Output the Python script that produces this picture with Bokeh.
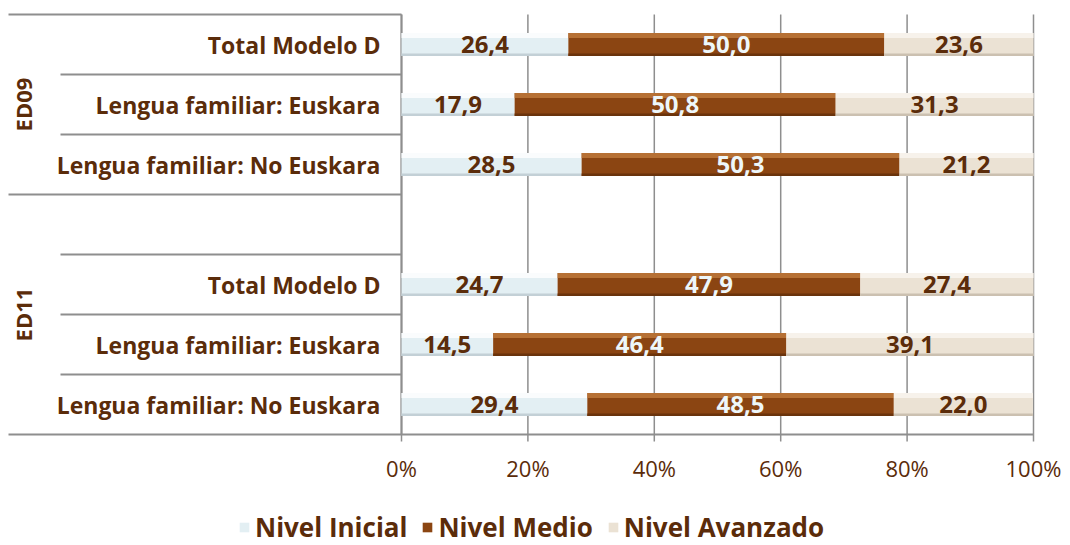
from bokeh.plotting import figure
from bokeh.models import Range1d, ColumnDataSource, Legend, LegendItem
from bokeh.core.properties import value
from bokeh.embed import file_html
from bokeh.resources import INLINE
import math

groups = ["ED09", "ED11"]
categories = ["Total Modelo D", "Lengua familiar: Euskara", "Lengua familiar: No Euskara"]
series = ["Nivel Inicial", "Nivel Medio", "Nivel Avanzado"]
inicial = [26.4, 17.9, 28.5, 24.7, 14.5, 29.4]
medio = [50.0, 50.8, 50.3, 47.9, 46.4, 48.5]
avanzado = [23.6, 31.3, 21.2, 27.4, 39.1, 22.0]
ticks = [0, 20, 40, 60, 80, 100]
tick_labels = ["0%", "20%", "40%", "60%", "80%", "100%"]

FONT = "Open Sans"
BROWN = "#5b2c0a"
GRID = "#8e8e8e"
fills = ["#e3eff3", "#8b4512", "#ebe2d4"]
highs = ["#ffffff", "#c17b3d", "#faf6f0"]
shades = ["#c3d0d6", "#6a330b", "#cbc0b0"]
label_colors = [BROWN, "#eef7fa", BROWN]

W, H_PX = 1068, 545
PX_X = 6.32          # px per percent
ZERO_X = 401         # canvas x of 0%
PX_ROW = 60          # px per row
TOP_Y = 14           # canvas y of first row top

n_cat = len(categories)
n_rows = len(groups) * (n_cat + 1) - 1

x_start = -ZERO_X / PX_X
x_end = (W - ZERO_X) / PX_X
y_top = -TOP_Y / PX_ROW
y_bottom = (H_PX - TOP_Y) / PX_ROW

p = figure(width=W, height=H_PX, x_range=Range1d(x_start, x_end),
           y_range=Range1d(y_bottom, y_top), output_backend="svg", toolbar_location=None,
           x_axis_location=None, y_axis_location=None,
           min_border_left=0, min_border_right=0, min_border_top=0, min_border_bottom=0)
p.outline_line_color = None
p.background_fill_color = "white"
p.xgrid.visible = False
p.ygrid.visible = False

# grid lines and ticks
p.segment(x0=ticks, x1=ticks, y0=[0] * len(ticks), y1=[n_rows + 7 / PX_ROW] * len(ticks),
          line_color=GRID, line_width=1.5)
p.text(x=ticks, y=[n_rows + 33 / PX_ROW] * len(ticks), text=tick_labels, text_align="center",
       text_baseline="middle", text_font=value(FONT), text_font_size="22px", text_color=BROWN)

# rows
ys, cat_names = [], []
for gi, g in enumerate(groups):
    for ci, c in enumerate(categories):
        ys.append(gi * (n_cat + 1) + ci + 0.5)
        cat_names.append(c)

# group spans (first group: its rows; later groups include the gap row above)
spans = []
for gi in range(len(groups)):
    start = gi * (n_cat + 1) - (1 if gi > 0 else 0)
    end = gi * (n_cat + 1) + n_cat
    spans.append((start, end))

# separators
full_left = (8 - ZERO_X) / PX_X
inner_left = (60 - ZERO_X) / PX_X
full_rows = sorted({s for s, e in spans} | {e for s, e in spans})
x0s, yss = [], []
for r in range(0, n_rows + 1):
    x0s.append(full_left if r in full_rows else inner_left)
    yss.append(r)
p.segment(x0=x0s, x1=[0] * len(x0s), y0=yss, y1=yss, line_color=GRID, line_width=2)
p.segment(x0=[0, 0], x1=[0, 100], y0=[0, n_rows], y1=[n_rows, n_rows], line_color=GRID, line_width=2)

H = 0.38
renderers = []
starts = [0.0] * len(ys)
for si, vals in enumerate([inicial, medio, avanzado]):
    lefts = starts[:]
    rights = [a + b for a, b in zip(lefts, vals)]
    r = p.hbar(y=ys, left=lefts, right=rights, height=H, fill_color=fills[si], line_color=None)
    renderers.append(r)
    p.hbar(y=[y - H / 2 + 0.04 for y in ys], left=lefts, right=rights, height=0.08,
           fill_color=highs[si], line_color=None, fill_alpha=0.8)
    p.hbar(y=[y + H / 2 - 0.02 for y in ys], left=lefts, right=rights, height=0.04,
           fill_color=shades[si], line_color=None)
    mids = [(a + b) / 2 for a, b in zip(lefts, rights)]
    txt = [f"{v:.1f}".replace(".", ",") for v in vals]
    src = ColumnDataSource(dict(x=mids, y=ys, t=txt))
    p.text(x="x", y="y", text="t", source=src, text_align="center", text_baseline="middle",
           text_font=value(FONT), text_font_style="bold", text_font_size="24px",
           text_color=label_colors[si])
    starts = rights

# category labels
p.text(x=[-21 / PX_X] * len(ys), y=ys, text=cat_names, text_align="right", text_baseline="middle",
       text_font=value(FONT), text_font_style="bold", text_font_size="23px", text_color=BROWN)

# group labels
gy = [(s + e) / 2 for s, e in spans]
p.text(x=[(22 - ZERO_X) / PX_X] * len(groups), y=gy, text=groups, angle=math.pi / 2,
       text_align="center", text_baseline="middle", text_font=value(FONT),
       text_font_style="bold", text_font_size="22px", text_color=BROWN)

legend = Legend(items=[LegendItem(label=s, renderers=[r]) for s, r in zip(series, renderers)],
                orientation="horizontal", location=(238, 0))
legend.glyph_width = 12
legend.glyph_height = 12
legend.label_text_font = FONT
legend.label_text_font_style = "bold"
legend.label_text_font_size = "26px"
legend.label_text_color = BROWN
legend.spacing = 14
legend.label_standoff = 5
legend.border_line_color = None
legend.background_fill_alpha = 0
legend.margin = 0
legend.padding = 0
p.add_layout(legend)

open("out.html", "w").write(file_html(p, INLINE))
